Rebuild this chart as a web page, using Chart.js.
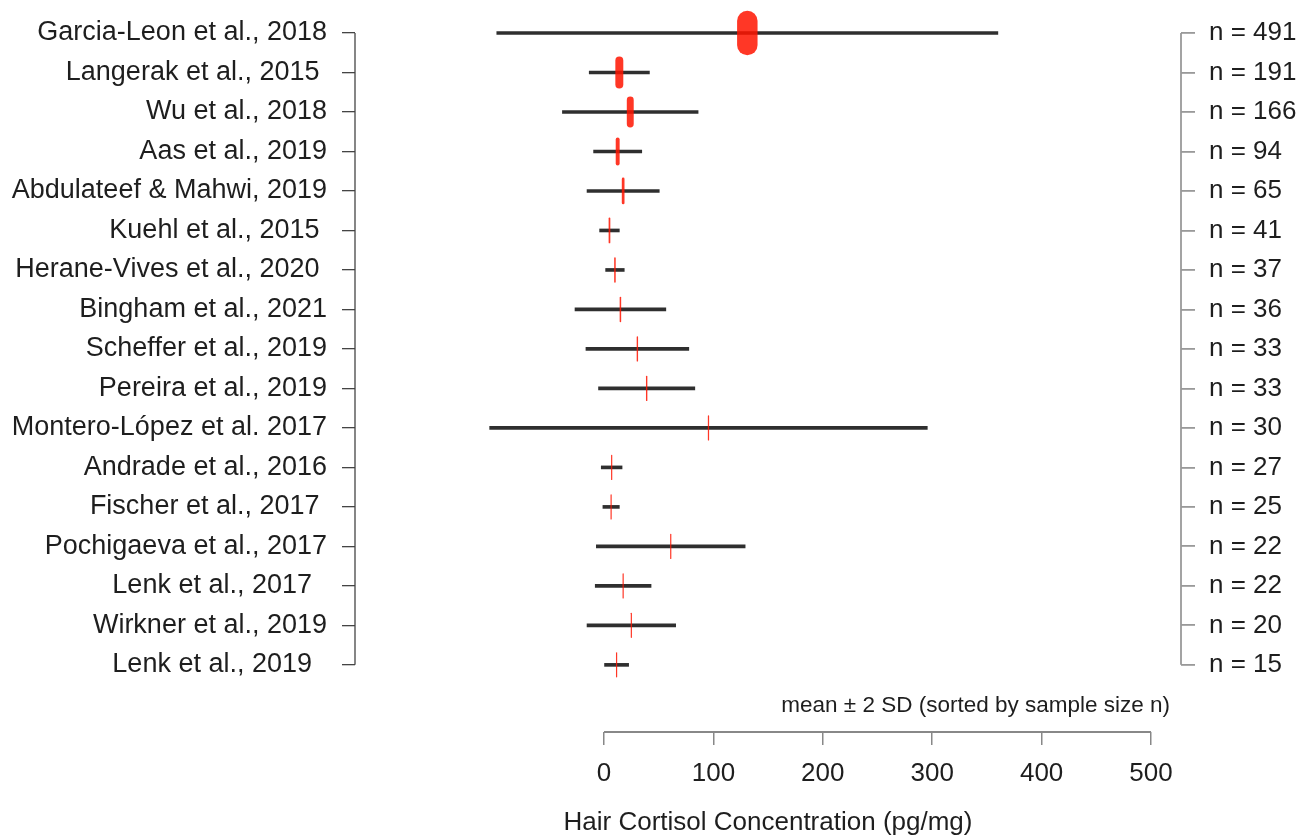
<!DOCTYPE html>
<html>
<head>
<meta charset="utf-8">
<script src="https://cdn.jsdelivr.net/npm/chart.js@4.4.1/dist/chart.umd.min.js"></script>
<style>
  html, body { margin: 0; padding: 0; background: #fff; }
  #wrap { width: 1304px; height: 840px; }
</style>
</head>
<body>
<div id="wrap"><canvas id="chart" width="1304" height="840"></canvas></div>
<script>
// studies, sorted by sample size (some labels carry trailing spaces as in the original)
const studies = [
  'Garcia-Leon et al., 2018', 'Langerak et al., 2015 ', 'Wu et al., 2018', 'Aas et al., 2019',
  'Abdulateef & Mahwi, 2019', 'Kuehl et al., 2015 ', 'Herane-Vives et al., 2020 ', 'Bingham et al., 2021',
  'Scheffer et al., 2019', 'Pereira et al., 2019', 'Montero-López et al. 2017', 'Andrade et al., 2016',
  'Fischer et al., 2017 ', 'Pochigaeva et al., 2017', 'Lenk et al., 2017  ', 'Wirkner et al., 2019',
  'Lenk et al., 2019  '
];
const sampleSize = [491, 191, 166, 94, 65, 41, 37, 36, 33, 33, 30, 27, 25, 22, 22, 20, 15];
const means = [131, 14, 24, 12.5, 17.5, 5, 10, 15, 30.5, 39, 95.5, 7, 6.5, 61, 17.5, 25, 11.5];
const twoSD = [229, 27.5, 62, 22, 33, 9, 8.5, 41.5, 47, 44, 200, 9.5, 7.5, 68, 25.5, 40.5, 11];
const xTicks = [0, 100, 200, 300, 400, 500];

const FONT = '"Liberation Sans", Arial, Helvetica, sans-serif';
Chart.defaults.font.family = FONT;
Chart.defaults.color = '#1e1e1e';

const rows = studies.map((s, i) => i);
const markerWidth = sampleSize.map(n => Math.max(1.2, n / 24));
const red = 'rgba(255, 20, 0, 0.85)';

function rowTicks(scale) {
  scale.ticks = rows.map(v => ({ value: v }));
}

// R style axis lines: only span from first to last tick
const axisLines = {
  id: 'axisLines',
  beforeDatasetDraw(chart, args) {
    if (args.index === 1) { chart.ctx.save(); chart.ctx.lineCap = 'round'; }
  },
  afterDatasetDraw(chart, args) {
    if (args.index === 1) chart.ctx.restore();
  },
  afterDraw(chart) {
    const { ctx, chartArea, scales } = chart;
    const y0 = scales.y.getPixelForValue(0);
    const y1 = scales.y.getPixelForValue(rows.length - 1);
    ctx.save();
    ctx.lineWidth = 1.3;
    ctx.strokeStyle = '#444';
    ctx.beginPath();
    ctx.moveTo(chartArea.left, y0);
    ctx.lineTo(chartArea.left, y1);
    ctx.stroke();
    ctx.strokeStyle = '#999';
    ctx.lineWidth = 1.8;
    ctx.beginPath();
    ctx.moveTo(chartArea.right, y0);
    ctx.lineTo(chartArea.right, y1);
    ctx.stroke();
    ctx.strokeStyle = '#888';
    ctx.beginPath();
    ctx.moveTo(scales.x.getPixelForValue(xTicks[0]), chartArea.bottom);
    ctx.lineTo(scales.x.getPixelForValue(xTicks[xTicks.length - 1]), chartArea.bottom);
    ctx.stroke();

    ctx.fillStyle = '#1e1e1e';
    ctx.font = '22.5px ' + FONT;
    ctx.textAlign = 'right';
    ctx.textBaseline = 'middle';
    ctx.fillText('mean ± 2 SD (sorted by sample size n)', chartArea.right - 11, 706);
    ctx.restore();
  }
};

new Chart(document.getElementById('chart'), {
  type: 'bar',
  data: {
    datasets: [
      {
        type: 'bar',
        indexAxis: 'y',
        data: rows.map(i => ({ y: i, x: [means[i] - twoSD[i], means[i] + twoSD[i]] })),
        backgroundColor: '#2f2f2f',
        borderWidth: 0,
        barThickness: 3,
        xAxisID: 'x',
        yAxisID: 'y',
        order: 2,
        clip: false
      },
      {
        type: 'scatter',
        data: rows.map(i => ({ x: means[i], y: i })),
        pointStyle: 'line',
        pointRotation: 90,
        pointRadius: 12,
        pointBorderWidth: markerWidth,
        pointBorderColor: red,
        pointBackgroundColor: red,
        showLine: false,
        xAxisID: 'x',
        yAxisID: 'y',
        order: 1,
        clip: false
      }
    ]
  },
  options: {
    responsive: false,
    devicePixelRatio: 1,
    animation: false,
    events: [],
    layout: { padding: { top: 33, left: 0, right: 0, bottom: 0 } },
    plugins: {
      legend: { display: false },
      tooltip: { enabled: false }
    },
    scales: {
      x: {
        type: 'linear',
        offset: false,
        min: -227.6,
        max: 527.4,
        afterBuildTicks: s => { s.ticks = xTicks.map(v => ({ value: v })); },
        afterFit: s => { s.height = 108; },
        border: { display: false },
        grid: { offset: false, drawOnChartArea: false, drawTicks: true, tickLength: 13, color: '#888', lineWidth: 1.5 },
        ticks: { font: { size: 26 }, padding: 13, color: '#1e1e1e', maxRotation: 0, autoSkip: false },
        title: {
          display: true,
          text: 'Hair Cortisol Concentration (pg/mg)',
          font: { size: 26 },
          color: '#1e1e1e',
          padding: { top: 0, bottom: 2 }
        }
      },
      y: {
        type: 'linear',
        position: 'left',
        offset: false,
        reverse: true,
        min: 0,
        max: 17.7,
        afterBuildTicks: rowTicks,
        afterFit: s => { s.width = 355; },
        border: { display: false },
        grid: { offset: false, drawOnChartArea: false, drawTicks: true, tickLength: 13, color: '#444', lineWidth: 1.3 },
        ticks: {
          font: { size: 27 },
          padding: 15,
          color: '#1e1e1e',
          autoSkip: false,
          callback: v => studies[v]
        }
      },
      y2: {
        type: 'linear',
        position: 'right',
        offset: false,
        reverse: true,
        min: 0,
        max: 17.7,
        afterBuildTicks: rowTicks,
        afterFit: s => { s.width = 123; },
        border: { display: false },
        grid: { offset: false, drawOnChartArea: false, drawTicks: true, tickLength: 14, color: '#999', lineWidth: 1.8 },
        ticks: {
          font: { size: 26 },
          padding: 14,
          color: '#1e1e1e',
          autoSkip: false,
          callback: v => 'n = ' + sampleSize[v]
        }
      }
    }
  },
  plugins: [axisLines]
});
</script>
</body>
</html>
